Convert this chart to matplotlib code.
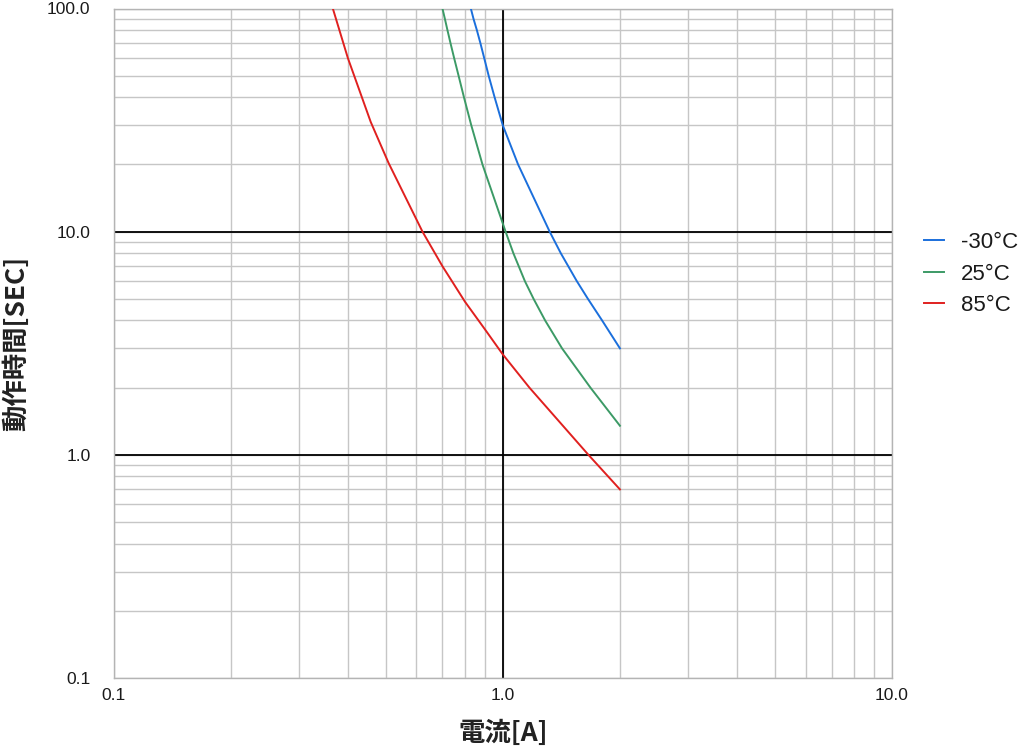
import matplotlib
matplotlib.use("Agg")
import matplotlib.pyplot as plt
from matplotlib.ticker import LogLocator, FuncFormatter, NullFormatter

# -----------------------------------------------------------------------
#  Dati (corrente [A] -> tempo di intervento [s])
# -----------------------------------------------------------------------
SERIES_LABELS = ["-30°C", "25°C", "85°C"]
SERIES_COLORS = ["#1b6fdc", "#3c9a66", "#e0201f"]

BLUE_X = [0.828, 0.841, 0.858, 0.876, 0.896, 0.920, 0.953, 1.0,
          1.095, 1.32, 1.41, 1.55, 1.655, 1.80, 2.0]
BLUE_Y = [100, 90, 80, 70, 60, 50, 40, 30, 20, 10, 8, 6, 5, 4, 3.0]

GREEN_X = [0.70, 0.710, 0.721, 0.734, 0.750, 0.770, 0.795, 0.830,
           0.887, 1.017, 1.065, 1.14, 1.20, 1.285, 1.42, 1.68, 2.0]
GREEN_Y = [100, 90, 80, 70, 60, 50, 40, 30, 20, 10, 8, 6, 5, 4, 3, 2,
           1.35]

RED_X = [0.366, 0.40, 0.458, 0.509, 0.622, 0.70, 0.80, 0.90, 1.0,
         1.171, 1.66, 2.0]
RED_Y = [100, 60, 31, 20.3, 10, 7.0, 4.85, 3.65, 2.82, 2.0, 1.0, 0.70]

X_LIM = (0.1, 10.0)
Y_LIM = (0.1, 100.0)
X_REF = [1.0]          # linee di riferimento nere
Y_REF = [1.0, 10.0]

NUM_FONT = "Liberation Sans"
CJK_FONT = ["Noto Sans CJK JP", "DejaVu Sans"]

W, H = 1024, 748
fig = plt.figure(figsize=(W / 100, H / 100), dpi=100)
ax = fig.add_axes([113.5 / W, 1 - 678 / H, (892 - 113.5) / W, (678 - 8.5) / H])

ax.set_xscale("log")
ax.set_yscale("log")
ax.set_xlim(*X_LIM)
ax.set_ylim(*Y_LIM)

# griglia: decadi + suddivisioni 2..9
for axis in (ax.xaxis, ax.yaxis):
    axis.set_major_locator(LogLocator(base=10, numticks=10))
    axis.set_minor_locator(LogLocator(base=10, subs=range(2, 10), numticks=20))
    axis.set_minor_formatter(NullFormatter())
    axis.set_major_formatter(FuncFormatter(lambda v, _: f"{v:.1f}"))

ax.set_axisbelow(True)
ax.grid(which="both", color="#c6c6c6", linewidth=1.0)
for v in X_REF:
    ax.axvline(v, color="black", linewidth=1.3, zorder=1)
for v in Y_REF:
    ax.axhline(v, color="black", linewidth=1.3, zorder=1)

for spine in ax.spines.values():
    spine.set_color("#b4b4b4")
    spine.set_linewidth(1.0)

ax.tick_params(which="both", length=0)
ax.tick_params(axis="y", pad=16.5)
ax.tick_params(axis="x", pad=7)
for lbl in ax.get_xticklabels() + ax.get_yticklabels():
    lbl.set_fontfamily(NUM_FONT)
    lbl.set_fontsize(12.5)
    lbl.set_color("#1a1a1a")

series = [(BLUE_X, BLUE_Y), (GREEN_X, GREEN_Y), (RED_X, RED_Y)]
for (xs, ys), label, color in zip(series, SERIES_LABELS, SERIES_COLORS):
    ax.plot(xs, ys, color=color, linewidth=1.4, label=label, zorder=3,
            solid_joinstyle="round")

leg = ax.legend(
    loc="center left", bbox_to_anchor=(924 / W, 1 - 274 / H),
    bbox_transform=fig.transFigure, frameon=False,
    prop={"family": NUM_FONT, "size": 16},
    handlelength=0.9, handletextpad=0.75, labelspacing=0.47,
    borderpad=0, borderaxespad=0,
)
for t in leg.get_texts():
    t.set_color("#1a1a1a")

fig.text(17 / W, 1 - 343.5 / H, "動作時間[SEC]", rotation=90,
         ha="center", va="center", fontsize=19, fontweight="bold",
         family=CJK_FONT, color="#222222")
fig.text(503.5 / W, 1 - 733.5 / H, "電流[A]", ha="center", va="center",
         fontsize=19, fontweight="bold", family=CJK_FONT, color="#222222")

fig.savefig("out.png", dpi=100)
